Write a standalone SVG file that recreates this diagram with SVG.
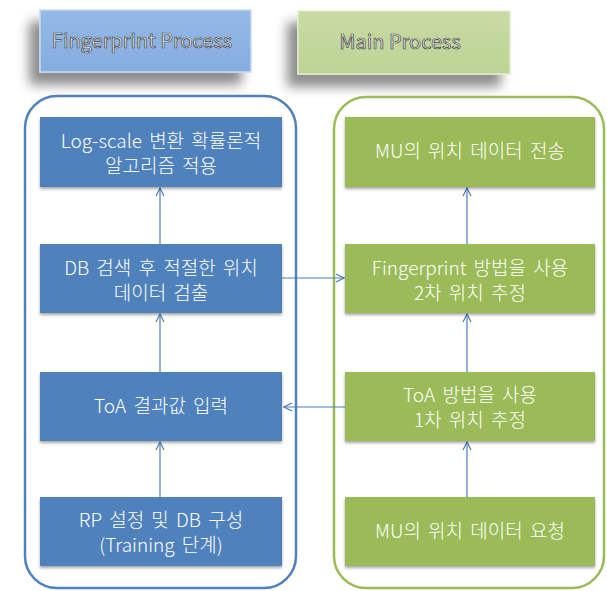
<svg xmlns="http://www.w3.org/2000/svg" width="607" height="591" viewBox="0 0 607 591">
<defs>
<filter id="hs" x="-30%" y="-30%" width="160%" height="180%">
<feDropShadow dx="-10" dy="12" stdDeviation="6" flood-color="#000" flood-opacity="0.45"/>
</filter>
<filter id="ns" x="-10%" y="-10%" width="120%" height="130%">
<feDropShadow dx="0" dy="2" stdDeviation="1.5" flood-color="#000" flood-opacity="0.35"/>
</filter>
<linearGradient id="gb" x1="0" y1="0" x2="0" y2="1">
<stop offset="0" stop-color="#95b9e6"/>
<stop offset="1" stop-color="#85ade0"/>
</linearGradient>
<linearGradient id="gg" x1="0" y1="0" x2="0" y2="1">
<stop offset="0" stop-color="#c8dba4"/>
<stop offset="1" stop-color="#bdd394"/>
</linearGradient>
<marker id="ah" viewBox="0 0 10 10" refX="9" refY="5" markerWidth="10" markerHeight="10" markerUnits="userSpaceOnUse" orient="auto">
<path d="M1,1 L9,5 L1,9" fill="none" stroke="#4a7ebb" stroke-width="1.2"/>
</marker>
</defs>
<style>
.hdr{font-family:"Noto Sans CJK KR","Noto Sans",sans-serif;font-size:20px;font-weight:400;fill:#ececec;stroke:#444;stroke-width:0.7;text-anchor:middle}
.t{font-family:"Noto Sans CJK KR","Noto Sans",sans-serif;font-size:19px;font-weight:300;word-spacing:3px;fill:#fff;text-anchor:middle}
.bn{fill:#4f81bd}
.gn{fill:#9bbb59}
.c{stroke:#4a7ebb;stroke-width:1.2;fill:none;marker-end:url(#ah)}
</style>
<rect width="607" height="591" fill="#fff"/>
<g id="hdr-fingerprint">
<rect x="40" y="10" width="211" height="62" fill="url(#gb)" stroke="#c6daf2" stroke-width="1.5" filter="url(#hs)"/>
<text class="hdr" x="142" y="48">Fingerprint Process</text>
</g>
<g id="hdr-main">
<rect x="298" y="11" width="212" height="63" fill="url(#gg)" stroke="#e0ebcc" stroke-width="1.5" filter="url(#hs)"/>
<text class="hdr" x="400" y="49">Main Process</text>
</g>
<g id="container-fingerprint">
<rect x="25" y="96" width="271" height="492" rx="32" fill="none" stroke="#4f81bd" stroke-width="2.5"/>
</g>
<g id="container-main">
<rect x="334" y="97" width="270" height="491" rx="32" fill="none" stroke="#9bbb59" stroke-width="2.5"/>
</g>
<g id="connectors">
<line class="c" x1="160" y1="244" x2="160" y2="188"/>
<line class="c" x1="160" y1="372" x2="160" y2="314"/>
<line class="c" x1="160" y1="497" x2="160" y2="442"/>
<line class="c" x1="467" y1="244" x2="467" y2="188"/>
<line class="c" x1="467" y1="372" x2="467" y2="314"/>
<line class="c" x1="467" y1="497" x2="467" y2="442"/>
<line class="c" x1="282" y1="278" x2="344" y2="278"/>
<line class="c" x1="345" y1="407" x2="284" y2="407"/>
</g>
<g id="f1"><rect class="bn" x="40" y="117" width="242" height="70" filter="url(#ns)"/>
<text class="t" x="161" y="148">Log-scale 변환 확률론적</text><text class="t" x="161" y="173">알고리즘 적용</text></g>
<g id="f2"><rect class="bn" x="40" y="244" width="242" height="69" filter="url(#ns)"/>
<text class="t" x="161" y="275">DB 검색 후 적절한 위치</text><text class="t" x="161" y="300">데이터 검출</text></g>
<g id="f3"><rect class="bn" x="40" y="372" width="242" height="69" filter="url(#ns)"/>
<text class="t" x="161" y="413">ToA 결과값 입력</text></g>
<g id="f4"><rect class="bn" x="40" y="497" width="242" height="69" filter="url(#ns)"/>
<text class="t" x="161" y="527">RP 설정 및 DB 구성</text><text class="t" x="161" y="552">(Training 단계)</text></g>
<g id="m1"><rect class="gn" x="345" y="117" width="250" height="70" filter="url(#ns)"/>
<text class="t" x="470" y="158">MU의 위치 데이터 전송</text></g>
<g id="m2"><rect class="gn" x="345" y="244" width="250" height="69" filter="url(#ns)"/>
<text class="t" x="470" y="275">Fingerprint 방법을 사용</text><text class="t" x="470" y="300">2차 위치 추정</text></g>
<g id="m3"><rect class="gn" x="345" y="372" width="250" height="69" filter="url(#ns)"/>
<text class="t" x="470" y="402">ToA 방법을 사용</text><text class="t" x="470" y="427">1차 위치 추정</text></g>
<g id="m4"><rect class="gn" x="345" y="497" width="250" height="69" filter="url(#ns)"/>
<text class="t" x="470" y="538">MU의 위치 데이터 요청</text></g>
</svg>
